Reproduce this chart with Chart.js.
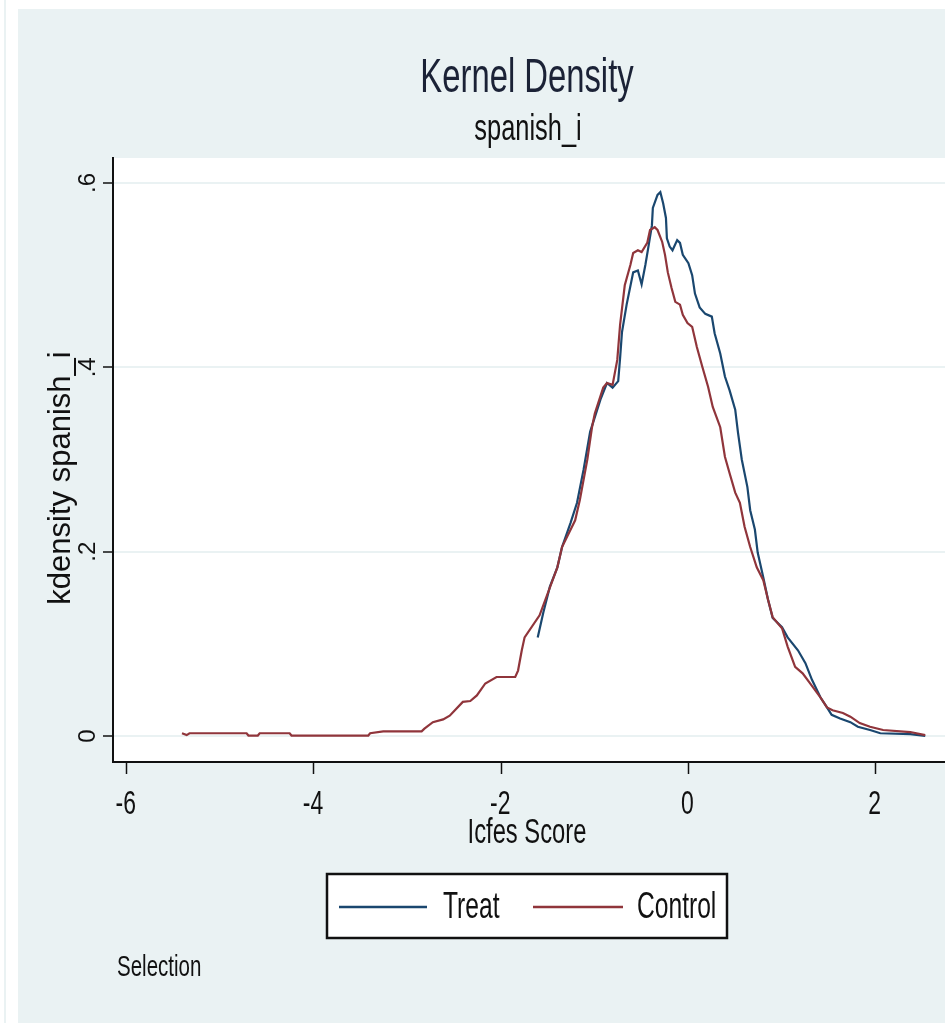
<!DOCTYPE html>
<html>
<head>
<meta charset="utf-8">
<script src="https://cdn.jsdelivr.net/npm/chart.js@4.4.1/dist/chart.umd.min.js"></script>
<style>
  html, body { margin: 0; padding: 0; background: #ffffff; }
  #wrap { width: 945px; height: 1023px; position: relative; }
</style>
</head>
<body>
<div id="wrap"><canvas id="c" width="945" height="1023"></canvas></div>
<script>
// ---- data ----
const titleText = "Kernel Density";
const subtitleText = "spanish_i";
const xTitle = "Icfes Score";
const yTitle = "kdensity spanish_i";
const noteText = "Selection";
const seriesNames = ["Treat", "Control"];

const xTickValues = [-6, -4, -2, 0, 2];
const xTickLabels = ["-6", "-4", "-2", "0", "2"];
const yTickValues = [0, 0.2, 0.4, 0.6];
const yTickLabels = ["0", ".2", ".4", ".6"];

const treatX = [-1.61,-1.55,-1.48,-1.40,-1.35,-1.26,-1.19,-1.12,-1.05,-0.94,-0.87,-0.81,-0.75,-0.73,-0.71,-0.66,-0.59,-0.54,-0.50,-0.46,-0.43,-0.39,-0.38,-0.33,-0.30,-0.27,-0.24,-0.23,-0.20,-0.17,-0.12,-0.09,-0.06,0.00,0.04,0.07,0.12,0.18,0.25,0.28,0.34,0.39,0.44,0.50,0.53,0.57,0.63,0.66,0.71,0.74,0.80,0.85,0.90,1.00,1.06,1.17,1.25,1.32,1.41,1.48,1.53,1.62,1.73,1.81,1.94,2.05,2.37,2.53];
const treatY = [0.107,0.134,0.162,0.183,0.205,0.231,0.253,0.289,0.330,0.365,0.383,0.378,0.385,0.410,0.438,0.468,0.503,0.505,0.490,0.511,0.529,0.554,0.573,0.587,0.590,0.578,0.562,0.540,0.531,0.527,0.538,0.535,0.522,0.513,0.500,0.480,0.465,0.458,0.455,0.437,0.415,0.390,0.375,0.354,0.329,0.300,0.270,0.245,0.224,0.199,0.172,0.148,0.128,0.118,0.107,0.093,0.079,0.061,0.042,0.031,0.023,0.019,0.015,0.010,0.0065,0.003,0.002,0.000];

const controlX = [-5.41,-5.36,-5.33,-4.72,-4.70,-4.60,-4.58,-4.26,-4.24,-3.42,-3.40,-3.26,-2.85,-2.82,-2.73,-2.62,-2.55,-2.41,-2.33,-2.26,-2.17,-2.05,-1.85,-1.82,-1.78,-1.75,-1.59,-1.40,-1.35,-1.21,-1.16,-1.08,-1.03,-1.00,-0.91,-0.87,-0.81,-0.76,-0.73,-0.68,-0.62,-0.59,-0.54,-0.50,-0.44,-0.41,-0.36,-0.33,-0.28,-0.25,-0.22,-0.18,-0.14,-0.09,-0.06,-0.01,0.04,0.09,0.15,0.21,0.26,0.34,0.39,0.44,0.50,0.55,0.60,0.66,0.73,0.80,0.85,0.90,1.00,1.06,1.14,1.22,1.30,1.41,1.48,1.54,1.65,1.73,1.83,1.94,2.08,2.37,2.53];
const controlY = [0.003,0.001,0.003,0.003,0.0005,0.0005,0.003,0.003,0.0005,0.0005,0.003,0.005,0.005,0.008,0.015,0.018,0.022,0.037,0.038,0.044,0.057,0.064,0.064,0.071,0.093,0.107,0.131,0.183,0.205,0.234,0.256,0.300,0.335,0.350,0.378,0.383,0.381,0.408,0.446,0.489,0.511,0.524,0.527,0.525,0.535,0.549,0.552,0.549,0.536,0.522,0.503,0.486,0.471,0.468,0.457,0.448,0.444,0.422,0.400,0.379,0.357,0.335,0.303,0.285,0.264,0.253,0.227,0.205,0.183,0.169,0.148,0.129,0.117,0.097,0.075,0.068,0.057,0.042,0.031,0.028,0.025,0.021,0.014,0.010,0.0065,0.0043,0.001];

// ---- styling ----
const COL_TREAT = "#1a476f";
const COL_CONTROL = "#90353b";
const BG_PANEL = "#eaf2f3";
const REGULAR = '"Liberation Sans", Arial, sans-serif';
const SX = 0.82; // horizontal condensing of horizontal text
const SY = 1.2;  // vertical stretch of horizontal text

function toPts(xs, ys) { return xs.map((x, i) => ({ x: x, y: ys[i] })); }

function sText(ctx, text, x, y, size, align, color) {
  ctx.save();
  ctx.font = size + "px " + REGULAR;
  ctx.textAlign = align;
  ctx.textBaseline = "alphabetic";
  ctx.fillStyle = color || "#000";
  ctx.translate(x, y);
  ctx.scale(SX, SY);
  ctx.fillText(text, 0, 0);
  ctx.restore();
}
function rText(ctx, text, x, y, size, color) {
  ctx.save();
  ctx.font = size + "px " + REGULAR;
  ctx.textAlign = "center";
  ctx.textBaseline = "alphabetic";
  ctx.fillStyle = color || "#000";
  ctx.translate(x, y);
  ctx.rotate(-Math.PI / 2);
  ctx.fillText(text, 0, 0);
  ctx.restore();
}

const decor = {
  id: "decor",
  beforeDraw(chart) {
    const ctx = chart.ctx, a = chart.chartArea;
    ctx.save();
    ctx.fillStyle = "#ffffff";
    ctx.fillRect(0, 0, chart.width, chart.height);
    ctx.fillStyle = BG_PANEL;
    ctx.fillRect(18, 9, chart.width - 18, chart.height - 9);
    ctx.fillRect(4, 0, 2, chart.height);
    ctx.fillStyle = "#ffffff";
    ctx.fillRect(a.left, a.top, a.right - a.left, a.bottom - a.top);
    ctx.restore();
  },
  afterDraw(chart) {
    const ctx = chart.ctx, a = chart.chartArea;
    const xs = chart.scales.x, ys = chart.scales.y;
    const cx = (a.left + a.right) / 2;
    // titles
    sText(ctx, titleText, cx - 2, 92, 40, "center", "#1b2236");
    sText(ctx, subtitleText, cx - 1, 140, 31, "center", "#111");
    // x tick labels
    xs.ticks.forEach((t) => {
      const px = xs.getPixelForValue(t.value);
      sText(ctx, xTickLabels[xTickValues.indexOf(t.value)], px - 1, 814, 28, "center", "#111");
    });
    // y tick labels (rotated)
    ys.ticks.forEach((t) => {
      const py = ys.getPixelForValue(t.value);
      rText(ctx, yTickLabels[yTickValues.indexOf(t.value)], 95, py, 24, "#111");
    });
    // axis titles
    sText(ctx, xTitle, cx - 2, 843, 29, "center", "#111");
    rText(ctx, yTitle, 70, 478, 31, "#111");
    // legend
    ctx.save();
    ctx.fillStyle = "#ffffff";
    ctx.fillRect(327, 874, 400, 64);
    ctx.strokeStyle = "#111";
    ctx.lineWidth = 2.5;
    ctx.strokeRect(327, 874, 400, 64);
    ctx.strokeStyle = COL_TREAT;
    ctx.beginPath(); ctx.moveTo(339, 907); ctx.lineTo(427, 907); ctx.stroke();
    ctx.strokeStyle = COL_CONTROL;
    ctx.beginPath(); ctx.moveTo(533, 907); ctx.lineTo(623, 907); ctx.stroke();
    ctx.restore();
    sText(ctx, seriesNames[0], 443, 918, 30, "left", "#111");
    sText(ctx, seriesNames[1], 637, 918, 30, "left", "#111");
    // note
    sText(ctx, noteText, 117, 976, 25, "left", "#111");
  }
};

new Chart(document.getElementById("c"), {
  type: "scatter",
  data: {
    datasets: [
      { label: seriesNames[0], data: toPts(treatX, treatY), showLine: true, borderColor: COL_TREAT,
        borderWidth: 2.2, pointRadius: 0, tension: 0, order: 1 },
      { label: seriesNames[1], data: toPts(controlX, controlY), showLine: true, borderColor: COL_CONTROL,
        borderWidth: 2.2, pointRadius: 0, tension: 0, order: 0 }
    ]
  },
  options: {
    responsive: false,
    animation: false,
    devicePixelRatio: 1,
    layout: { padding: { top: 158, left: 0, right: 0, bottom: 0 } },
    plugins: { legend: { display: false }, title: { display: false }, tooltip: { enabled: false } },
    scales: {
      x: {
        type: "linear", position: "bottom",
        min: -6.147, max: 2.741,
        afterBuildTicks: (s) => { s.ticks = xTickValues.map(v => ({ value: v })); },
        afterFit: (s) => { s.height = 261; },
        ticks: { display: false },
        grid: { display: true, drawOnChartArea: false, drawTicks: true, tickLength: 12,
                tickColor: "#111", tickWidth: 1.5 },
        border: { display: true, color: "#111", width: 2 }
      },
      y: {
        type: "linear", position: "left",
        min: -0.0282, max: 0.6271,
        afterBuildTicks: (s) => { s.ticks = yTickValues.map(v => ({ value: v })); },
        afterFit: (s) => { s.width = 113; },
        ticks: { display: false },
        grid: { display: true, drawOnChartArea: true, color: BG_PANEL, lineWidth: 2,
                drawTicks: true, tickLength: 10, tickColor: "#111", tickWidth: 1.5 },
        border: { display: true, color: "#111", width: 2 }
      }
    }
  },
  plugins: [decor]
});
</script>
</body>
</html>
